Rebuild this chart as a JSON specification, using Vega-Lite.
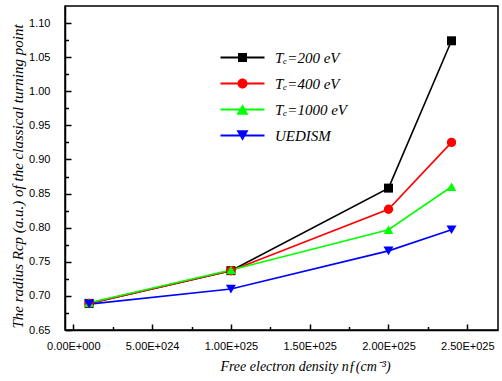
{
  "$schema": "https://vega.github.io/schema/vega-lite/v6.json",
  "width": 433,
  "height": 324,
  "autosize": "none",
  "padding": {"left": 65, "top": 6, "right": 4, "bottom": 51},
  "background": "white",
  "config": {
    "view": {"stroke": "black", "strokeWidth": 1.5},
    "axis": {"labelFont": "Liberation Sans", "labelFontSize": 11, "labelColor": "black", "titleFont": "Liberation Serif", "titleFontStyle": "italic", "titleFontWeight": "normal", "titleFontSize": 14, "titleColor": "black", "grid": false, "domainColor": "black", "tickColor": "black"}
  },
  "data": {
    "values": [
      {"series": "Tₑ=200 eV", "n": 1e24, "r": 0.689},
      {"series": "Tₑ=200 eV", "n": 1e25, "r": 0.737},
      {"series": "Tₑ=200 eV", "n": 2e25, "r": 0.858},
      {"series": "Tₑ=200 eV", "n": 2.4e25, "r": 1.074},
      {"series": "Tₑ=400 eV", "n": 1e24, "r": 0.689},
      {"series": "Tₑ=400 eV", "n": 1e25, "r": 0.737},
      {"series": "Tₑ=400 eV", "n": 2e25, "r": 0.827},
      {"series": "Tₑ=400 eV", "n": 2.4e25, "r": 0.925},
      {"series": "Tₑ=1000 eV", "n": 1e24, "r": 0.690},
      {"series": "Tₑ=1000 eV", "n": 1e25, "r": 0.738},
      {"series": "Tₑ=1000 eV", "n": 2e25, "r": 0.797},
      {"series": "Tₑ=1000 eV", "n": 2.4e25, "r": 0.860},
      {"series": "UEDISM", "n": 1e24, "r": 0.688},
      {"series": "UEDISM", "n": 1e25, "r": 0.710},
      {"series": "UEDISM", "n": 2e25, "r": 0.766},
      {"series": "UEDISM", "n": 2.4e25, "r": 0.797}
    ]
  },
  "layer": [
    {
      "mark": {"type": "line", "strokeWidth": 1.6},
      "encoding": {
        "x": {"field": "n", "type": "quantitative", "scale": {"domain": [-5.3e23, 2.695e25], "nice": false, "zero": false},
          "axis": {"orient": "bottom", "values": [0, 5e24, 1e25, 1.5e25, 2e25, 2.5e25], "tickSize": -6, "tickWidth": 1.5, "domainWidth": 1.5, "labelPadding": 16,
            "labelExpr": "datum.value == 0 ? '0.00E+000' : replace(format(datum.value, '.2e'), 'e+', 'E+0')",
            "title": "Free electron density nƒ(cm⁻³)", "titleX": 240, "titleY": 36, "titleBaseline": "middle"}},
        "y": {"field": "r", "type": "quantitative", "scale": {"domain": [0.65, 1.125], "nice": false, "zero": false},
          "axis": {"orient": "left", "values": [0.65, 0.7, 0.75, 0.8, 0.85, 0.9, 0.95, 1.0, 1.05, 1.1], "format": ".2f", "tickSize": -6, "tickWidth": 1.5, "domainWidth": 1.5, "labelPadding": 21,
            "title": "The radius Rcp (a.u.) of the classical turning point", "titleFontSize": 15, "titleX": -48, "titleY": 170, "titleBaseline": "middle", "titleAngle": -90, "titleAlign": "center"}},
        "color": {"field": "series", "type": "nominal", "scale": {"domain": ["Tₑ=200 eV", "Tₑ=400 eV", "Tₑ=1000 eV", "UEDISM"], "range": ["#000000", "#ff0000", "#00ff00", "#0000ff"]}, "legend": null}
      }
    },
    {
      "mark": {"type": "point", "filled": true, "opacity": 1},
      "encoding": {
        "x": {"field": "n", "type": "quantitative",
          "axis": {"orient": "bottom", "values": [2.5e24, 7.5e24, 1.25e25, 1.75e25, 2.25e25], "tickSize": -3.5, "tickWidth": 1.5, "labels": false, "domain": false, "title": null}},
        "y": {"field": "r", "type": "quantitative",
          "axis": {"orient": "left", "values": [0.675, 0.725, 0.775, 0.825, 0.875, 0.925, 0.975, 1.025, 1.075], "tickSize": -3.5, "tickWidth": 1.5, "labels": false, "domain": false, "title": null}},
        "color": {"field": "series", "type": "nominal", "scale": {"domain": ["Tₑ=200 eV", "Tₑ=400 eV", "Tₑ=1000 eV", "UEDISM"], "range": ["#000000", "#ff0000", "#00ff00", "#0000ff"]}, "legend": null},
        "shape": {"field": "series", "type": "nominal", "scale": {"domain": ["Tₑ=200 eV", "Tₑ=400 eV", "Tₑ=1000 eV", "UEDISM"], "range": ["square", "circle", "triangle-up", "triangle-down"]}, "legend": null},
        "size": {"field": "series", "type": "nominal", "scale": {"domain": ["Tₑ=200 eV", "Tₑ=400 eV", "Tₑ=1000 eV", "UEDISM"], "range": [81, 100, 150, 150]}, "legend": null}
      }
    },
    {
      "transform": [{"filter": "false"}],
      "mark": {"type": "point", "filled": true, "opacity": 1},
      "encoding": {
        "x": {"field": "n", "type": "quantitative", "axis": null},
        "y": {"field": "r", "type": "quantitative", "axis": null},
        "color": {"field": "series", "type": "nominal", "scale": {"domain": ["Tₑ=200 eV", "Tₑ=400 eV", "Tₑ=1000 eV", "UEDISM"], "range": ["#000000", "#ff0000", "#00ff00", "#0000ff"]},
          "legend": {"orient": "none", "legendX": 192, "legendY": 44, "title": null, "symbolSize": 100, "symbolStrokeWidth": 0, "symbolOpacity": 1, "labelFont": "Liberation Serif", "labelFontStyle": "italic", "labelFontSize": 15, "labelColor": "black", "labelOffset": 3, "rowPadding": 10, "padding": 0}},
        "shape": {"field": "series", "type": "nominal", "scale": {"domain": ["Tₑ=200 eV", "Tₑ=400 eV", "Tₑ=1000 eV", "UEDISM"], "range": [
          "M-8.8,-0.2H0V0.2H-8.8ZM-5.3,-0.9H-3.5V0.9H-5.3Z",
          "M-8.8,-0.2H0V0.2H-8.8ZM-5.4,0A1,1 0 1,1 -3.4,0A1,1 0 1,1 -5.4,0Z",
          "M-8.8,-0.2H0V0.2H-8.8ZM-4.4,-1.04L-3.2,1.04H-5.6Z",
          "M-8.8,-0.2H0V0.2H-8.8ZM-4.4,1.04L-5.6,-1.04H-3.2Z"]},
          "legend": {"orient": "none", "legendX": 192, "legendY": 44, "title": null, "symbolSize": 100, "symbolStrokeWidth": 0, "symbolOpacity": 1, "labelFont": "Liberation Serif", "labelFontStyle": "italic", "labelFontSize": 15, "labelColor": "black", "labelOffset": 3, "rowPadding": 10, "padding": 0}}
      }
    }
  ],
  "resolve": {"scale": {"color": "independent", "shape": "independent", "size": "independent"}, "axis": {"x": "independent", "y": "independent"}}
}
